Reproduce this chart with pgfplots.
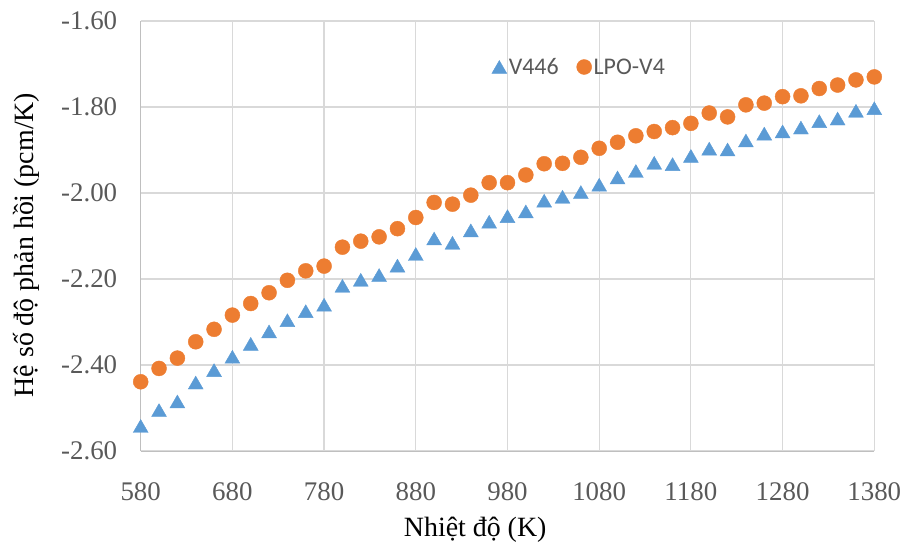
\documentclass[border=0pt]{standalone}
\usepackage{fontspec}
\setmainfont{Liberation Serif}
\newfontfamily\legfont{Carlito}
\usepackage{pgfplots}
\pgfplotsset{compat=1.18}

\definecolor{sblue}{HTML}{5B9BD5}
\definecolor{sorange}{HTML}{ED7D31}
\definecolor{gridc}{HTML}{D9D9D9}
\definecolor{axisc}{HTML}{BFBFBF}
\definecolor{tickc}{HTML}{595959}

\pgfplotstableread{
T    v
580  -2.542
600  -2.505
620  -2.485
640  -2.441
660  -2.412
680  -2.381
700  -2.351
720  -2.322
740  -2.296
760  -2.275
780  -2.260
800  -2.216
820  -2.202
840  -2.191
860  -2.169
880  -2.142
900  -2.106
920  -2.116
940  -2.087
960  -2.067
980  -2.054
1000 -2.043
1020 -2.018
1040 -2.009
1060 -1.998
1080 -1.981
1100 -1.964
1120 -1.949
1140 -1.930
1160 -1.933
1180 -1.914
1200 -1.897
1220 -1.899
1240 -1.878
1260 -1.862
1280 -1.857
1300 -1.848
1320 -1.833
1340 -1.827
1360 -1.809
1380 -1.803
}\vfourfoursix

\pgfplotstableread{
T    v
580  -2.439
600  -2.408
620  -2.384
640  -2.346
660  -2.317
680  -2.284
700  -2.257
720  -2.232
740  -2.203
760  -2.181
780  -2.170
800  -2.126
820  -2.112
840  -2.102
860  -2.083
880  -2.057
900  -2.022
920  -2.026
940  -2.005
960  -1.976
980  -1.976
1000 -1.958
1020 -1.932
1040 -1.931
1060 -1.917
1080 -1.896
1100 -1.882
1120 -1.867
1140 -1.857
1160 -1.848
1180 -1.838
1200 -1.814
1220 -1.823
1240 -1.795
1260 -1.791
1280 -1.776
1300 -1.774
1320 -1.757
1340 -1.749
1360 -1.737
1380 -1.730
}\lpovfour

\begin{document}
\begin{tikzpicture}
\useasboundingbox (0,0) rectangle (906bp,548bp);
\begin{axis}[
  at={(140.7bp,97bp)}, anchor=south west,
  scale only axis,
  width=733.6bp, height=430bp,
  xmin=580, xmax=1380,
  ymin=-2.6, ymax=-1.6,
  xtick={580,680,...,1380},
  ytick={-2.6,-2.4,...,-1.59},
  axis lines=left,
  axis line style={axisc, line width=1bp, -},
  grid=major,
  major grid style={gridc, line width=1.2bp},
  major tick length=0pt,
  clip=false,
  /pgf/number format/assume math mode=true,
  xticklabel style={font=\fontsize{27}{30}\selectfont, text=tickc, /pgf/number format/1000 sep={}, yshift=-28bp},
  yticklabel style={font=\fontsize{27}{30}\selectfont, text=tickc, /pgf/number format/.cd, fixed, fixed zerofill, precision=2, /tikz/.cd, xshift=-20bp},
  xlabel={Nhiệt độ (K)},
  ylabel={Hệ số độ phản hồi (pcm/K)},
  xlabel style={font=\fontsize{28}{32}\selectfont, at={(rel axis cs:0.456,-0.184)}, anchor=center},
  ylabel style={font=\fontsize{28}{32}\selectfont, at={(rel axis cs:-0.156,0.479)}, anchor=center, rotate=0},
  legend style={at={(rel axis cs:0.598,0.893)}, anchor=center, draw=none, fill=none,
    font=\legfont\fontsize{24}{28}\selectfont, text=tickc,
    /tikz/every even column/.append style={column sep=16bp}},
  legend columns=2,
  legend cell align=left,
]
\addplot[only marks, mark=triangle*, mark size=8.6bp, color=sblue,
  mark options={yshift=-2.1bp}] table[x=T, y=v] {\vfourfoursix};
\addlegendentry{V446}
\addplot[only marks, mark=*, mark size=7.5bp, color=sorange] table[x=T, y=v] {\lpovfour};
\addlegendentry{LPO-V4}
\end{axis}
\end{tikzpicture}
\end{document}
